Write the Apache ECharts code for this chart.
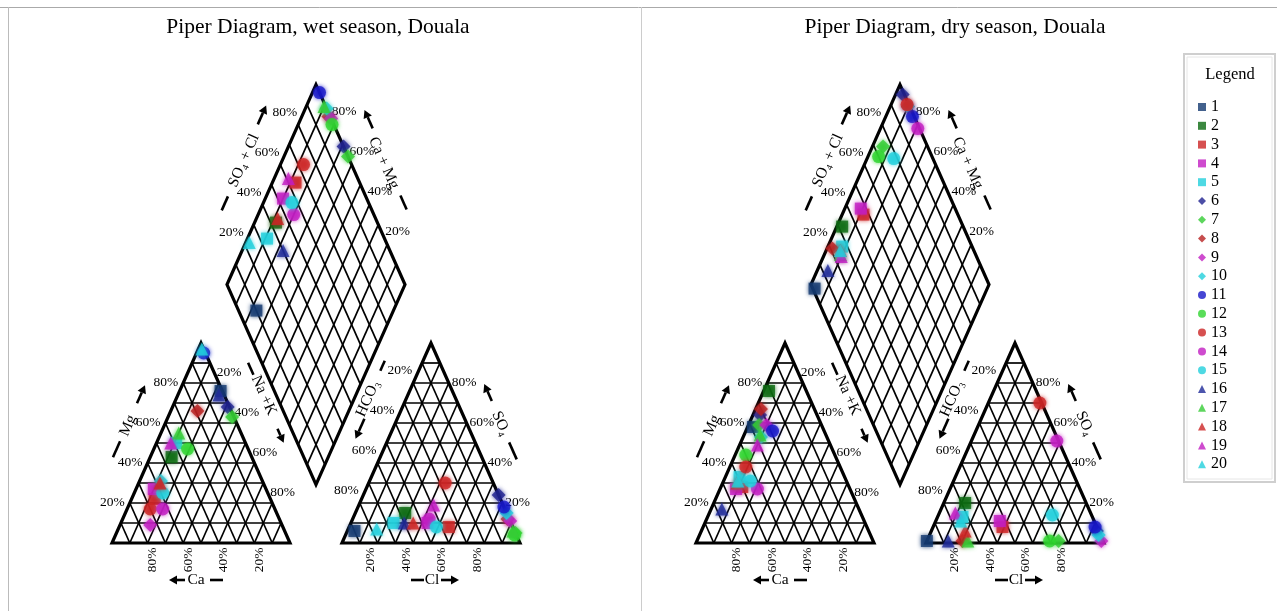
<!DOCTYPE html>
<html><head><meta charset="utf-8">
<script src="https://cdn.jsdelivr.net/npm/echarts@6/dist/echarts.min.js"></script>
<style>html,body{margin:0;padding:0;background:#fff}#c{width:1277px;height:611px}</style>
</head><body><div id="c"></div>
<script>
// ---------------- DATA ----------------
const sampleNames = ['1','2','3','4','5','6','7','8','9','10','11','12','13','14','15','16','17','18','19','20'];
const sampleShapes = ['rect','rect','rect','rect','rect','diamond','diamond','diamond','diamond','diamond',
  'circle','circle','circle','circle','circle','triangle','triangle','triangle','triangle','triangle'];
const sampleColors = ['#143a70','#0b6a10','#cc2424','#c21ec2','#22cfdc',
  '#1f2290','#33cc33','#b82020','#c21ec2','#22cfdc',
  '#1818c8','#2fd42f','#cc2424','#c21ec2','#22cfdc',
  '#1f2b99','#36cc36','#cc2424','#c21ec2','#22cfdc'];

// wet season, cations (% meq)
const wetCa  = [ 1,45,65,63,39, 1, 1,19,74,57, 1,34,70,63,59, 3,35,58,42, 1];
const wetMg  = [76,43,22,27,50,68,63,66, 9,31,95,47,17,17,25,74,55,30,50,97];
const wetNaK = [23,12,13,10,11,31,36,15,17,12, 4,19,13,20,16,23,10,12, 8, 2];
// wet season, anions (% meq)
const wetHCO3 = [90,57,36,47,66, 0, 0, 1, 0, 0, 0, 1,27,45,43,60, 1,55,39,77];
const wetSO4  = [ 6,15, 8,10,10,24, 5,12,11,15,18, 4,30,12, 8,10, 6,10,19, 7];
const wetCl   = [ 4,28,56,43,24,76,95,87,89,85,82,95,43,43,49,30,93,35,42,16];

// dry season, cations (% meq)
const dryCa  = [39,21,60,64,59,32,35,30,31,37,29,50,53,52,54,77,37,62,41,61];
const dryMg  = [58,76,28,27,33,64,59,67,59,53,56,44,38,27,31,17,54,30,49,31];
const dryNaK = [ 3, 3,12, 9, 8, 4, 6, 3,10,10,15, 6, 9,21,15, 6, 9, 8,10, 8];
// dry season, anions (% meq)
const dryHCO3 = [99,68,53,53,73, 1,25,79, 1, 1, 1,30, 1, 1,22,87,76,75,76,75];
const drySO4  = [ 1,20, 8,11,13, 6, 1, 1, 1, 4, 8, 1,70,51,14, 1, 1, 6,15,11];
const dryCl   = [ 0,12,39,36,14,93,74,20,98,95,91,69,29,48,64,12,23,19, 9,14];

const tickPercents = [20, 40, 60, 80];
const panelTitles = ['Piper Diagram, wet season, Douala', 'Piper Diagram, dry season, Douala'];
const legendTitle = 'Legend';

// ---------------- GEOMETRY (data space) ----------------
const G = 29.2;      // gap between the two triangles (side = 100)
const H = 100;       // triangle height in y units
const XMAX = 200 + G;
const YMAX = G / 2 * (H / 50) + 2 * H;

function cat(ca, mg, nak) { const s = ca + mg + nak; mg = mg / s * 100; nak = nak / s * 100; return [nak + mg / 2, mg * H / 100]; }
function ani(hco3, so4, cl) { const s = hco3 + so4 + cl; so4 = so4 / s * 100; cl = cl / s * 100; return [100 + G + cl + so4 / 2, so4 * H / 100]; }
function dia(a, b) { // a = SO4+Cl %, b = Ca+Mg %
  const bx = 100 + G / 2, by = G / 2 * (H / 50);
  return [bx + a / 2 - b / 2, by + a / 100 * H + b / 100 * H];
}

const FONT = '"Liberation Serif","DejaVu Serif",serif';

function buildDecor(api) {
  const ch = [];
  const P = p => api.coord(p);
  const line = (p1, p2, w) => ch.push({ type: 'line', shape: { x1: p1[0], y1: p1[1], x2: p2[0], y2: p2[1] }, style: { stroke: '#000', lineWidth: w, lineCap: 'butt' } });
  const poly = (pts, w) => ch.push({ type: 'polygon', shape: { points: pts }, style: { fill: null, stroke: '#000', lineWidth: w, lineJoin: 'miter' } });
  const text = (s, x, y, opt) => ch.push({ type: 'text', x: x, y: y, rotation: opt.rot || 0,
    style: { text: s, fill: '#000', font: (opt.size || 13.5) + 'px ' + FONT, align: opt.align || 'center', verticalAlign: 'middle' } });
  const arrow = (tail, tip, w) => {
    const dx = tip[0] - tail[0], dy = tip[1] - tail[1], L = Math.hypot(dx, dy), ux = dx / L, uy = dy / L;
    const hl = 8, hw = 4.5;
    const b = [tip[0] - ux * hl, tip[1] - uy * hl];
    line(tail, b, w);
    ch.push({ type: 'polygon', shape: { points: [tip, [b[0] - uy * hw, b[1] + ux * hw], [b[0] + uy * hw, b[1] - ux * hw]] }, style: { fill: '#000' } });
  };
  const edgeAt = (A, B, t, off, C) => {
    const dx = B[0] - A[0], dy = B[1] - A[1], L = Math.hypot(dx, dy);
    let nx = -dy / L, ny = dx / L;
    const mx = A[0] + dx * t, my = A[1] + dy * t;
    if ((C[0] - mx) * nx + (C[1] - my) * ny > 0) { nx = -nx; ny = -ny; }
    return [mx + nx * off, my + ny * off];
  };
  const rotOf = (A, B) => -Math.atan2(B[1] - A[1], B[0] - A[0]);
  const edgeDeco = (A, B, C, cfg) => {
    line(edgeAt(A, B, cfg.dash[0], cfg.off, C), edgeAt(A, B, cfg.dash[1], cfg.off, C), 2.6);
    const tp = edgeAt(A, B, cfg.tt, cfg.toff, C);
    text(cfg.label, tp[0], tp[1], { rot: rotOf(A, B), size: 15.5 });
    arrow(edgeAt(A, B, cfg.arr[0], cfg.aoff, C), edgeAt(A, B, cfg.arr[1], cfg.aoff, C), 2.6);
  };

  // ----- cation triangle -----
  const cBL = P(cat(100, 0, 0)), cT = P(cat(0, 100, 0)), cBR = P(cat(0, 0, 100));
  const cC = [(cBL[0] + cT[0] + cBR[0]) / 3, (cBL[1] + cT[1] + cBR[1]) / 3];
  for (let k = 1; k < 10; k++) {
    const p = k * 10;
    line(P(cat(100 - p, p, 0)), P(cat(0, p, 100 - p)), 1.7);
    line(P(cat(p, 100 - p, 0)), P(cat(p, 0, 100 - p)), 1.7);
    line(P(cat(100 - p, 0, p)), P(cat(0, 100 - p, p)), 1.7);
  }
  poly([cBL, cT, cBR], 3.2);
  tickPercents.forEach(p => {
    const L = P(cat(100 - p, p, 0)); text(p + '%', L[0] - 5, L[1] - 1, { align: 'right' });
    const R = P(cat(0, 100 - p, p)); text(p + '%', R[0] - 2, R[1] - 11, { align: 'left' });
    const Bm = P(cat(p, 0, 100 - p)); text(p + '%', Bm[0] + 5, Bm[1] + 17, { rot: Math.PI / 2 });
  });
  edgeDeco(cBL, cT, cC, { dash: [0.36, 0.44], off: 34, tt: 0.52, toff: 33, label: 'Mg', arr: [0.63, 0.72], aoff: 34 });
  edgeDeco(cT, cBR, cC, { dash: [0.17, 0.23], off: 35, tt: 0.335, toff: 36, label: 'Na +K', arr: [0.50, 0.57], aoff: 35 });
  const cMid = (cBL[0] + cBR[0]) / 2, yb = cBL[1] + 37;
  arrow([cMid - 16, yb], [cMid - 32, yb], 2.6); text('Ca', cMid - 5, yb, { size: 15.5 }); line([cMid + 9, yb], [cMid + 22, yb], 2.6);

  // ----- anion triangle -----
  const aBL = P(ani(100, 0, 0)), aT = P(ani(0, 100, 0)), aBR = P(ani(0, 0, 100));
  const aC = [(aBL[0] + aT[0] + aBR[0]) / 3, (aBL[1] + aT[1] + aBR[1]) / 3];
  for (let k = 1; k < 10; k++) {
    const p = k * 10;
    line(P(ani(100 - p, p, 0)), P(ani(0, p, 100 - p)), 1.7);
    line(P(ani(p, 100 - p, 0)), P(ani(p, 0, 100 - p)), 1.7);
    line(P(ani(100 - p, 0, p)), P(ani(0, 100 - p, p)), 1.7);
  }
  poly([aBL, aT, aBR], 3.2);
  tickPercents.forEach(p => {
    const L = P(ani(p, 100 - p, 0)); text(p + '%', L[0] - 1, L[1] - 12.5, { align: 'right' });
    const R = P(ani(0, p, 100 - p)); text(p + '%', R[0] + 3, R[1] - 1, { align: 'left' });
    const Bm = P(ani(100 - p, 0, p)); text(p + '%', Bm[0] - 7, Bm[1] + 17, { rot: Math.PI / 2 });
  });
  edgeDeco(aBL, aT, aC, { dash: [0.79, 0.84], off: 35, tt: 0.651, toff: 35, label: 'HCO\u2083', arr: [0.56, 0.46], aoff: 30 });
  edgeDeco(aT, aBR, aC, { dash: [0.56, 0.645], off: 31, tt: 0.466, toff: 31, label: 'SO\u2084', arr: [0.355, 0.27], aoff: 32 });
  const aMid = (aBL[0] + aBR[0]) / 2;
  line([aMid - 20, yb], [aMid - 7, yb], 2.6); text('Cl', aMid + 1, yb, { size: 15.5 }); arrow([aMid + 10, yb], [aMid + 28, yb], 2.6);

  // ----- diamond -----
  const dB = P(dia(0, 0)), dR = P(dia(100, 0)), dT = P(dia(100, 100)), dL = P(dia(0, 100));
  const dC = [(dB[0] + dT[0]) / 2, (dB[1] + dT[1]) / 2];
  for (let k = 1; k < 10; k++) {
    const p = k * 10;
    line(P(dia(p, 0)), P(dia(p, 100)), 1.7);
    line(P(dia(0, p)), P(dia(100, p)), 1.7);
  }
  poly([dB, dR, dT, dL], 3.2);
  tickPercents.forEach(p => {
    const L = P(dia(p, 100)); text(p + '%', L[0] - 1, L[1] - 12.5, { align: 'right' });
    const R = P(dia(100, p)); text(p + '%', R[0] - 2, R[1] - 13, { align: 'left' });
  });
  edgeDeco(dL, dT, dC, { dash: [0.30, 0.37], off: 35, tt: 0.549, toff: 35, label: 'SO\u2084 + Cl', arr: [0.726, 0.82], aoff: 37 });
  edgeDeco(dT, dR, dC, { dash: [0.62, 0.69], off: 32, tt: 0.453, toff: 30, label: 'Ca + Mg', arr: [0.288, 0.196], aoff: 34 });
  return ch;
}

// ---------------- SERIES ----------------
const seasons = [
  { Ca: wetCa, Mg: wetMg, NaK: wetNaK, HCO3: wetHCO3, SO4: wetSO4, Cl: wetCl },
  { Ca: dryCa, Mg: dryMg, NaK: dryNaK, HCO3: dryHCO3, SO4: drySO4, Cl: dryCl }
];
const series = [];
seasons.forEach((s, si) => {
  series.push({ type: 'custom', xAxisIndex: si, yAxisIndex: si, silent: true, clip: false, z: 1,
    data: [[0, 0]], renderItem: (params, api) => ({ type: 'group', children: buildDecor(api) }) });
});
seasons.forEach((s, si) => {
  sampleNames.forEach((nm, i) => {
    const d = [];
    d.push(cat(s.Ca[i], s.Mg[i], s.NaK[i]));
    d.push(ani(s.HCO3[i], s.SO4[i], s.Cl[i]));
    const a = (s.SO4[i] + s.Cl[i]) / (s.HCO3[i] + s.SO4[i] + s.Cl[i]) * 100;
    const b = (s.Ca[i] + s.Mg[i]) / (s.Ca[i] + s.Mg[i] + s.NaK[i]) * 100;
    d.push(dia(a, b));
    const shp = sampleShapes[i];
    series.push({ type: 'scatter', name: nm, xAxisIndex: si, yAxisIndex: si, z: 3,
      symbol: shp, symbolSize: shp === 'rect' ? 12 : (shp === 'diamond' ? 14 : 13),
      itemStyle: { color: sampleColors[i], shadowBlur: 4, shadowColor: sampleColors[i] },
      emphasis: { disabled: true }, data: d });
  });
});

const chart = echarts.init(document.getElementById('c'), null, { renderer: 'canvas' });
const gridW = XMAX * 1.78, gridH = YMAX * 2;
chart.setOption({
  animation: false,
  backgroundColor: '#fff',
  grid: [
    { left: 112, top: 543 - gridH, width: gridW, height: gridH },
    { left: 696, top: 543 - gridH, width: gridW, height: gridH }
  ],
  xAxis: [0, 1].map(i => ({ gridIndex: i, type: 'value', min: 0, max: XMAX, show: false })),
  yAxis: [0, 1].map(i => ({ gridIndex: i, type: 'value', min: 0, max: YMAX, show: false })),
  legend: {
    orient: 'vertical', left: 1193, top: 94, itemWidth: 8, itemHeight: 8, itemGap: 2.8,
    selectedMode: false, data: sampleNames,
    textStyle: { fontFamily: 'Liberation Serif', fontSize: 16, color: '#000', lineHeight: 16 }
  },
  graphic: [
    { type: 'line', shape: { x1: 0, y1: 7.5, x2: 1277, y2: 7.5 }, style: { stroke: '#aaa', lineWidth: 1 } },
    { type: 'line', shape: { x1: 8.5, y1: 7, x2: 8.5, y2: 611 }, style: { stroke: '#bbb', lineWidth: 1 } },
    { type: 'line', shape: { x1: 641.5, y1: 7, x2: 641.5, y2: 611 }, style: { stroke: '#ccc', lineWidth: 1 } },
    { type: 'text', x: 318, y: 27, style: { text: panelTitles[0], font: '21.5px ' + FONT, fill: '#000', align: 'center', verticalAlign: 'middle' } },
    { type: 'text', x: 955, y: 27, style: { text: panelTitles[1], font: '21.5px ' + FONT, fill: '#000', align: 'center', verticalAlign: 'middle' } },
    { type: 'rect', shape: { x: 1184, y: 54, width: 91, height: 428 }, style: { fill: null, stroke: '#cfcfcf', lineWidth: 2 } },
    { type: 'rect', shape: { x: 1187, y: 57, width: 85, height: 422 }, style: { fill: null, stroke: '#e6e6e6', lineWidth: 1 } },
    { type: 'text', x: 1230, y: 75, style: { text: legendTitle, font: '16.5px ' + FONT, fill: '#000', align: 'center', verticalAlign: 'middle' } }
  ],
  series: series
});
</script></body></html>
